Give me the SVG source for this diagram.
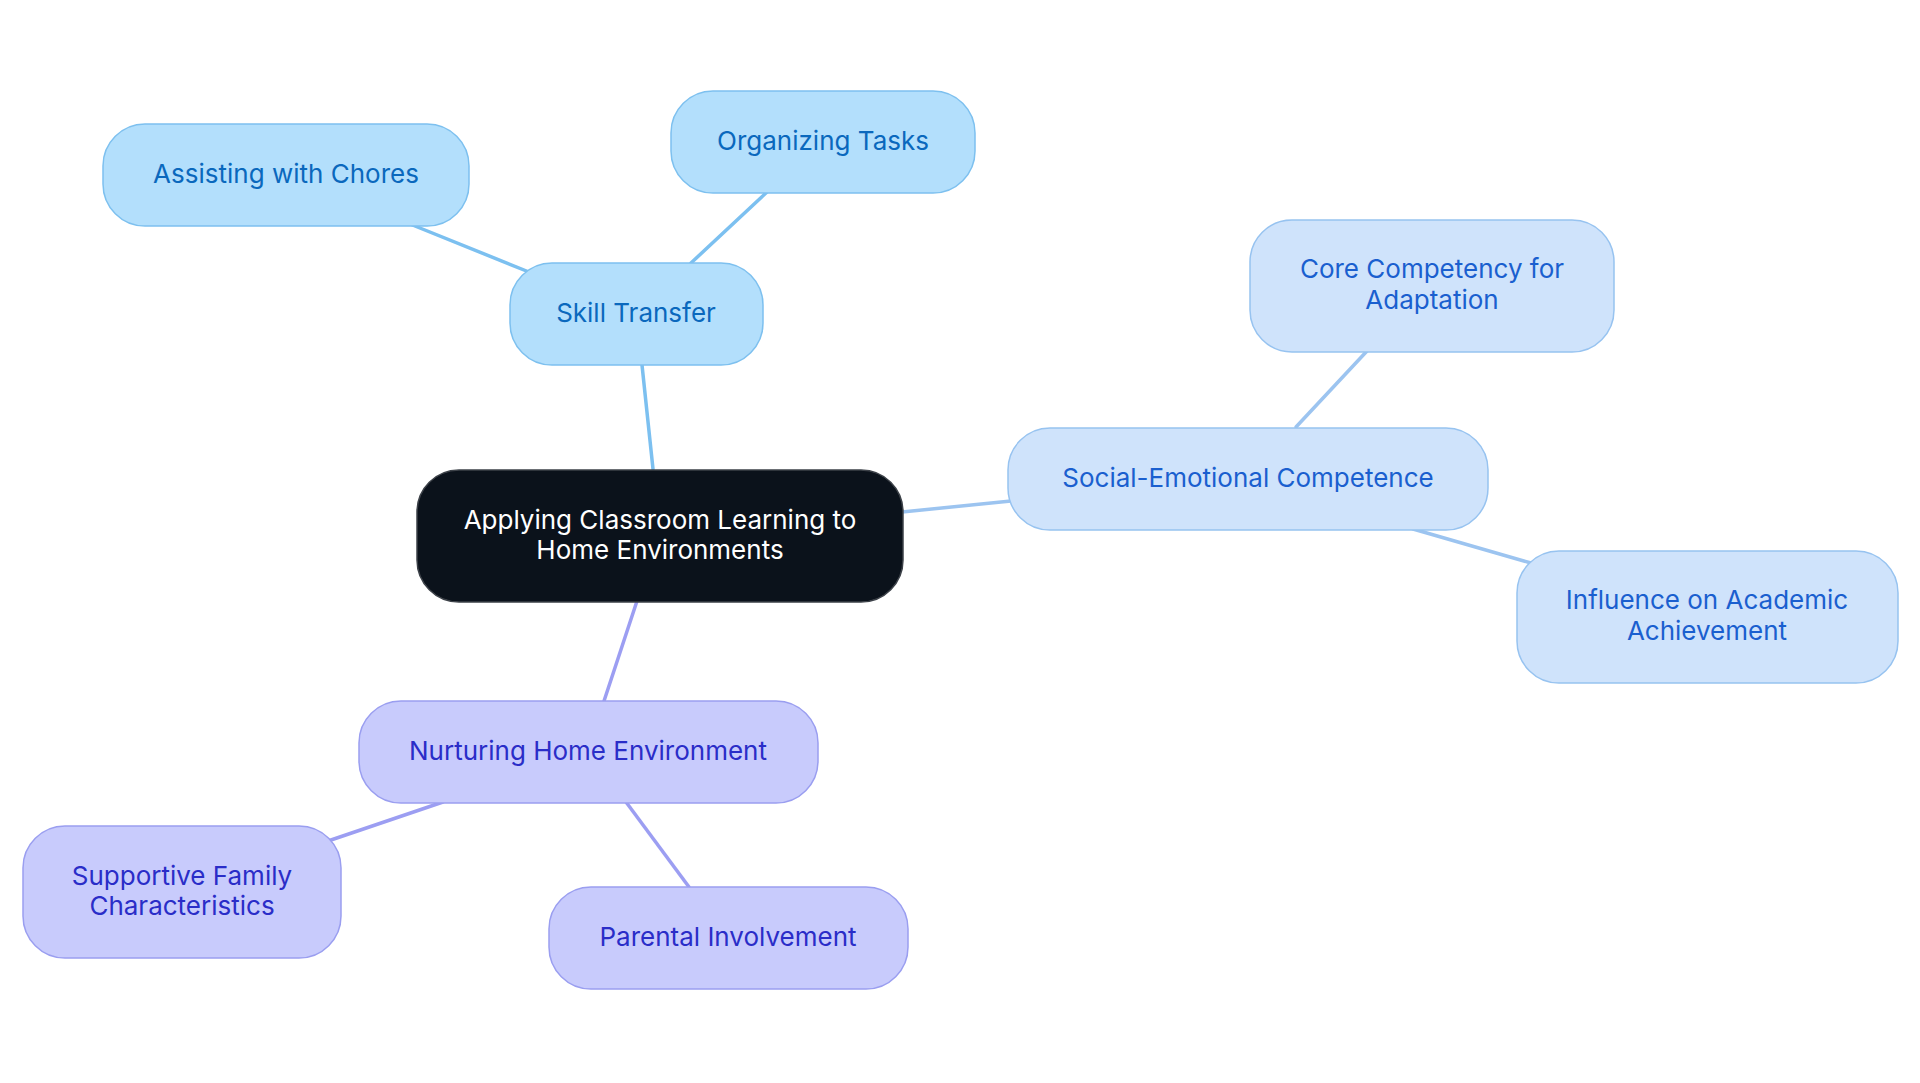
<svg xmlns="http://www.w3.org/2000/svg" width="1920" height="1083" viewBox="0 0 1920 1083">
<style>
text{font-family:Inter,"Noto Sans",sans-serif;font-size:26px;text-anchor:middle;dominant-baseline:central}
.e{fill:none;stroke-width:3.5;stroke-linecap:round}
.sk rect{fill:#b3dffc;stroke:#7dc0ef;stroke-width:1.5}
.sk text{fill:#0a68bd}
.se rect{fill:#cfe3fb;stroke:#97c3f0;stroke-width:1.5}
.se text{fill:#1a5fcf}
.nh rect{fill:#c8cbfc;stroke:#9a9ef0;stroke-width:1.5}
.nh text{fill:#2a2dc8}
</style>
<rect width="1920" height="1083" fill="#fff"/>
<g id="connectors">
<line class="e" stroke="#7cc0f0" x1="653" y1="469" x2="642" y2="365"/>
<line class="e" stroke="#7cc0f0" x1="529" y1="272" x2="410" y2="224"/>
<line class="e" stroke="#7cc0f0" x1="691" y1="263" x2="767" y2="192"/>
<line class="e" stroke="#9cc4f0" x1="902" y1="512" x2="1011" y2="501"/>
<line class="e" stroke="#9cc4f0" x1="1296" y1="427" x2="1367" y2="351"/>
<line class="e" stroke="#9cc4f0" x1="1413" y1="529" x2="1531" y2="563"/>
<line class="e" stroke="#9c9ef2" x1="637" y1="601" x2="604" y2="701"/>
<line class="e" stroke="#9c9ef2" x1="443" y1="802" x2="328" y2="841"/>
<line class="e" stroke="#9c9ef2" x1="626" y1="802" x2="689" y2="887"/>
</g>
<g id="root">
<rect x="417" y="470" width="486" height="132" rx="42" fill="#0b121b" stroke="#3c4148" stroke-width="1.5"/>
<text x="660" y="519" fill="#fff">Applying Classroom Learning to</text>
<text x="660" y="549" fill="#fff">Home Environments</text>
</g>
<g id="skill-transfer" class="sk">
<rect x="510" y="263" width="253" height="102" rx="42"/>
<text x="636" y="312">Skill Transfer</text>
</g>
<g id="assisting-with-chores" class="sk">
<rect x="103" y="124" width="366" height="102" rx="42"/>
<text x="286" y="173">Assisting with Chores</text>
</g>
<g id="organizing-tasks" class="sk">
<rect x="671" y="91" width="304" height="102" rx="42"/>
<text x="823" y="140">Organizing Tasks</text>
</g>
<g id="social-emotional" class="se">
<rect x="1008" y="428" width="480" height="102" rx="42"/>
<text x="1248" y="477">Social-Emotional Competence</text>
</g>
<g id="core-competency" class="se">
<rect x="1250" y="220" width="364" height="132" rx="42"/>
<text x="1432" y="268">Core Competency for</text>
<text x="1432" y="299">Adaptation</text>
</g>
<g id="influence-academic" class="se">
<rect x="1517" y="551" width="381" height="132" rx="42"/>
<text x="1707" y="599">Influence on Academic</text>
<text x="1707" y="630">Achievement</text>
</g>
<g id="nurturing-home" class="nh">
<rect x="359" y="701" width="459" height="102" rx="42"/>
<text x="588" y="750">Nurturing Home Environment</text>
</g>
<g id="supportive-family" class="nh">
<rect x="23" y="826" width="318" height="132" rx="42"/>
<text x="182" y="875">Supportive Family</text>
<text x="182" y="905">Characteristics</text>
</g>
<g id="parental-involvement" class="nh">
<rect x="549" y="887" width="359" height="102" rx="42"/>
<text x="728" y="936">Parental Involvement</text>
</g>
</svg>
